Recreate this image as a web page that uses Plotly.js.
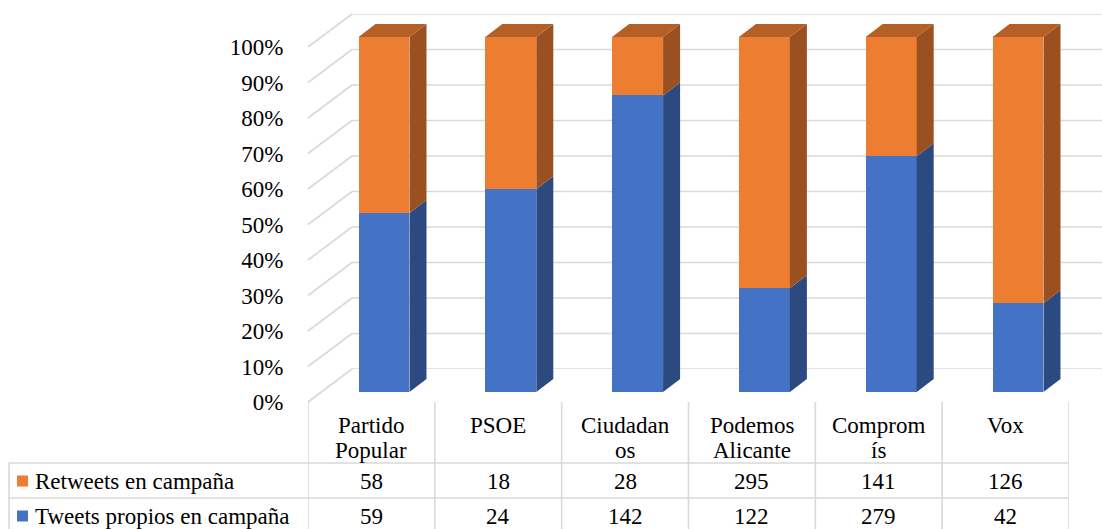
<!DOCTYPE html>
<html><head><meta charset="utf-8">
<script src="https://cdn.plot.ly/plotly-3.0.1.min.js"></script>
<style>
html,body{margin:0;padding:0;background:#fff}
#chart{width:1102px;height:529px}
#chart text{font-family:"Liberation Serif",serif !important;}
</style>
</head><body><div id="chart"></div>
<script>
// ---- data ----
const categories = ['Partido Popular','PSOE','Ciudadanos','Podemos Alicante','Compromís','Vox'];
const headerLabels = [['Partido','Popular'],['PSOE'],['Ciudadan','os'],['Podemos','Alicante'],['Comprom','ís'],['Vox']];
const retweets = [58,18,28,295,141,126];
const tweetsPropios = [59,24,142,122,279,42];
const seriesNames = ['Retweets en campaña','Tweets propios en campaña'];
const percentTicks = [0,0.1,0.2,0.3,0.4,0.5,0.6,0.7,0.8,0.9,1];

// ---- styling / geometry ----
const W=1102,H=529;
const fx=p=>p/W, fy=p=>1-p/H;
const GRID='#d9d9d9';
const SERIF='Liberation Serif';
const mkFont=()=>({family:SERIF,size:23,color:'#000000'});
const C={blue:'#4472C4',blueSide:'#2C4A80',orange:'#ED7D31',orangeSide:'#9A5020',orangeTop:'#B45F25'};

const backX=[fx(352),1], backY=[fy(369),fy(14)];
const barTop=1.06;
const barX=[fx(320.6),fx(1081.4)], barY=[fy(392),fy(392-355*barTop)];
const frontX=[fx(308),fx(1069)], frontY=[fy(402),fy(47)];

const idx=categories.map((_,i)=>i);
const totals=idx.map(i=>retweets[i]+tweetsPropios[i]);
const shareT=idx.map(i=>tweetsPropios[i]/totals[i]);
const shareR=idx.map(i=>retweets[i]/totals[i]);

const hw=0.201, dx=17/126.8, dy=13/355;

const traces=[];
traces.push({type:'scatter',x:[],y:[],xaxis:'x',yaxis:'y',hoverinfo:'skip',showlegend:false});
traces.push({type:'bar',name:seriesNames[1],x:idx,y:shareT,width:hw*2,marker:{color:C.blue,line:{width:0}},xaxis:'x2',yaxis:'y2',showlegend:false});
traces.push({type:'bar',name:seriesNames[0],x:idx,y:shareR,width:hw*2,marker:{color:C.orange,line:{width:0}},xaxis:'x2',yaxis:'y2',showlegend:false});
function poly(xs,ys,col){
  traces.push({type:'scatter',mode:'lines',x:xs.concat([xs[0]]),y:ys.concat([ys[0]]),fill:'toself',fillcolor:col,line:{width:0,color:col},xaxis:'x2',yaxis:'y2',hoverinfo:'skip',showlegend:false});
}
idx.forEach(i=>{
  const r=i+hw, l=i-hw, p=shareT[i], top=p+shareR[i];
  poly([r,r+dx,r+dx,r],[0,dy,p+dy,p],C.blueSide);
  poly([r,r+dx,r+dx,r],[p,p+dy,top+dy,top],C.orangeSide);
  poly([l,l+dx,r+dx,r],[top,top+dy,top+dy,top],C.orangeTop);
});
traces.push({type:'scatter',x:[],y:[],xaxis:'x3',yaxis:'y3',hoverinfo:'skip',showlegend:false});

const shapes=[];
percentTicks.forEach(v=>{
  shapes.push({type:'line',layer:'below',xref:'paper',yref:'y',x0:backX[0],x1:1,y0:v,y1:v,line:{color:GRID,width:1.6}});
  shapes.push({type:'line',layer:'below',xref:'paper',yref:'paper',
    x0:frontX[0],y0:frontY[0]+v*(frontY[1]-frontY[0]),
    x1:backX[0],y1:backY[0]+v*(backY[1]-backY[0]),line:{color:GRID,width:1.6}});
});
for(let k=0;k<=categories.length;k++){
  shapes.push({type:'line',layer:'below',xref:'x3',yref:'paper',x0:k-0.5,x1:k-0.5,y0:fy(402),y1:0,line:{color:GRID,width:1.6}});
}
shapes.push({type:'line',layer:'below',xref:'paper',yref:'paper',x0:fx(9),x1:fx(9),y0:fy(463),y1:0,line:{color:GRID,width:1.6}});
[463,498].forEach(py=>{
  shapes.push({type:'line',layer:'below',xref:'paper',yref:'paper',x0:fx(9),x1:frontX[1],y0:fy(py),y1:fy(py),line:{color:GRID,width:1.6}});
});
const rowCenters=[481,516];
const rowColors=[C.orange,C.blue];
rowCenters.forEach((yc,r)=>{
  shapes.push({type:'rect',xref:'paper',yref:'paper',x0:fx(17),x1:fx(28),y0:fy(yc+5.5),y1:fy(yc-5.5),fillcolor:rowColors[r],line:{width:0}});
});

const annotations=[];
headerLabels.forEach((lines,i)=>{
  lines.forEach((t,k)=>{
    annotations.push({xref:'x3',yref:'paper',x:i,y:fy(425+25.5*k),text:t,showarrow:false,xanchor:'center',yanchor:'middle',font:mkFont()});
  });
});
const rowValues=[retweets,tweetsPropios];
rowCenters.forEach((yc,r)=>{
  annotations.push({xref:'paper',yref:'paper',x:fx(33),y:fy(yc),text:seriesNames[r],showarrow:false,xanchor:'left',yanchor:'middle',font:mkFont()});
  rowValues[r].forEach((v,i)=>{
    annotations.push({xref:'x3',yref:'paper',x:i,y:fy(yc),text:String(v),showarrow:false,xanchor:'center',yanchor:'middle',font:mkFont()});
  });
});

const layout={
  width:W,height:H,margin:{l:0,r:0,t:0,b:0},
  paper_bgcolor:'#ffffff',plot_bgcolor:'rgba(0,0,0,0)',
  barmode:'stack',showlegend:false,font:mkFont(),
  xaxis:{domain:backX,range:[0,1],anchor:'y',visible:false},
  yaxis:{domain:backY,range:[0,1],anchor:'x',visible:false},
  xaxis2:{domain:barX,range:[-0.5,5.5],anchor:'y2',visible:false},
  yaxis2:{domain:barY,range:[0,barTop],anchor:'x2',visible:false},
  xaxis3:{domain:frontX,range:[-0.5,5.5],anchor:'y3',visible:false},
  yaxis3:{domain:frontY,range:[0,1],anchor:'x3',tickvals:percentTicks,tickformat:'.0%',
    showgrid:false,zeroline:false,showline:false,ticks:'outside',ticklen:19,tickcolor:'rgba(0,0,0,0)',
    tickfont:mkFont()},
  shapes:shapes,annotations:annotations
};
Plotly.newPlot('chart',traces,layout,{displayModeBar:false,staticPlot:true});
</script></body></html>
